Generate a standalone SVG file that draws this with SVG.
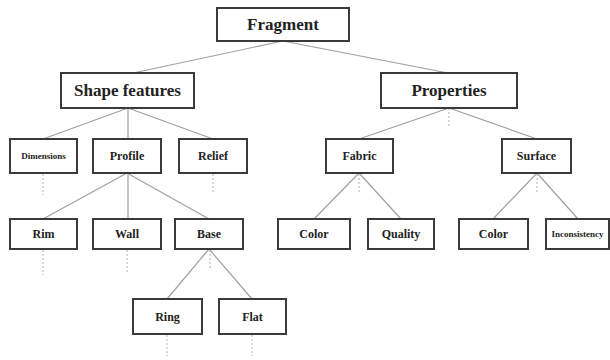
<svg xmlns="http://www.w3.org/2000/svg" width="610" height="360" viewBox="0 0 610 360">
<style>
.box{fill:#fff;stroke:#3a3a3a;stroke-width:2}
.t{font-weight:bold;fill:#222;text-anchor:middle;dominant-baseline:central}
.big{font-size:17px}
.sm{font-size:12px}
.xs{font-size:9px}
.ln{stroke:#a0a0a0;stroke-width:1.2;fill:none}
.dt{stroke:#b0b0b0;stroke-width:1;stroke-dasharray:2,2;fill:none}
</style>
<rect width="610" height="360" fill="#fff"/>
<g id="connectors">
<line class="ln" x1="283" y1="41" x2="133" y2="73"/>
<line class="ln" x1="283" y1="41" x2="448" y2="73"/>
<line class="ln" x1="128" y1="108" x2="43" y2="139"/>
<line class="ln" x1="128" y1="108" x2="213" y2="139"/>
<line class="ln" x1="128" y1="108" x2="128" y2="219" stroke="#c0c0c0"/>
<line class="ln" x1="127" y1="173" x2="43" y2="219"/>
<line class="ln" x1="127" y1="173" x2="209" y2="219"/>
<line class="ln" x1="209" y1="249" x2="167" y2="299"/>
<line class="ln" x1="209" y1="249" x2="252" y2="299"/>
<line class="ln" x1="449" y1="108" x2="359" y2="139"/>
<line class="ln" x1="449" y1="108" x2="537" y2="139"/>
<line class="ln" x1="359" y1="173" x2="314" y2="219"/>
<line class="ln" x1="359" y1="173" x2="401" y2="219"/>
<line class="ln" x1="537" y1="173" x2="493" y2="219"/>
<line class="ln" x1="537" y1="173" x2="578" y2="219"/>
<line class="dt" x1="449" y1="108" x2="449" y2="127"/>
<line class="dt" x1="43" y1="174" x2="43" y2="195"/>
<line class="dt" x1="213" y1="174" x2="213" y2="193"/>
<line class="dt" x1="359" y1="174" x2="359" y2="192"/>
<line class="dt" x1="537" y1="174" x2="537" y2="192"/>
<line class="dt" x1="43" y1="250" x2="43" y2="275"/>
<line class="dt" x1="127" y1="250" x2="127" y2="273"/>
<line class="dt" x1="210" y1="250" x2="210" y2="270"/>
<line class="dt" x1="167" y1="335" x2="167" y2="356"/>
<line class="dt" x1="252" y1="335" x2="252" y2="356"/>
</g>
<g font-family="Liberation Serif, serif">
<g id="fragment"><rect class="box" x="217" y="8" width="132" height="33"/><text class="t big" x="283" y="24.5">Fragment</text></g>
<g id="shape-features"><rect class="box" x="61" y="73" width="133" height="35"/><text class="t big" x="127.5" y="90.5">Shape features</text></g>
<g id="properties"><rect class="box" x="381" y="73" width="136" height="35"/><text class="t big" x="449" y="90.5">Properties</text></g>
<g id="dimensions"><rect class="box" x="10" y="139" width="67" height="34"/><text class="t xs" x="43.5" y="156">Dimensions</text></g>
<g id="profile"><rect class="box" x="93" y="139" width="68" height="34"/><text class="t sm" x="127" y="156">Profile</text></g>
<g id="relief"><rect class="box" x="179" y="139" width="68" height="34"/><text class="t sm" x="213" y="156">Relief</text></g>
<g id="fabric"><rect class="box" x="326" y="139" width="67" height="34"/><text class="t sm" x="359.5" y="156">Fabric</text></g>
<g id="surface"><rect class="box" x="502" y="139" width="69" height="34"/><text class="t sm" x="536.5" y="156">Surface</text></g>
<g id="rim"><rect class="box" x="10" y="219" width="67" height="30"/><text class="t sm" x="43.5" y="234">Rim</text></g>
<g id="wall"><rect class="box" x="93" y="219" width="68" height="30"/><text class="t sm" x="127" y="234">Wall</text></g>
<g id="base"><rect class="box" x="175" y="219" width="68" height="30"/><text class="t sm" x="209" y="234">Base</text></g>
<g id="color-fabric"><rect class="box" x="278" y="219" width="72" height="30"/><text class="t sm" x="314" y="234">Color</text></g>
<g id="quality"><rect class="box" x="368" y="219" width="66" height="30"/><text class="t sm" x="401" y="234">Quality</text></g>
<g id="color-surface"><rect class="box" x="459" y="219" width="69" height="30"/><text class="t sm" x="493.5" y="234">Color</text></g>
<g id="inconsistency"><rect class="box" x="546" y="219" width="63" height="30"/><text class="t xs" x="577.5" y="234">Inconsistency</text></g>
<g id="ring"><rect class="box" x="133" y="299" width="69" height="35"/><text class="t sm" x="167.5" y="316.5">Ring</text></g>
<g id="flat"><rect class="box" x="219" y="299" width="67" height="35"/><text class="t sm" x="252.5" y="316.5">Flat</text></g>
</g>
</svg>
